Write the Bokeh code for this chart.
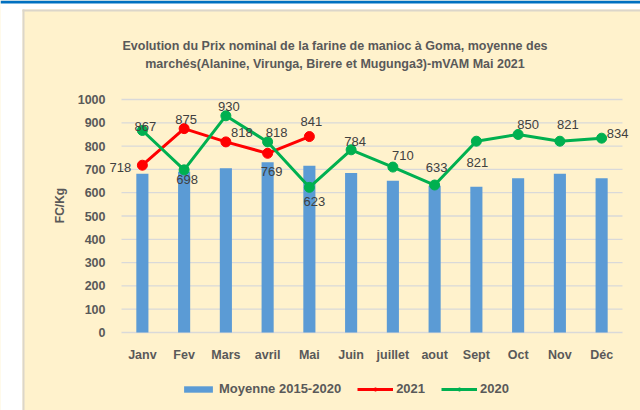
from bokeh.plotting import figure
from bokeh.models import (Range1d, FixedTicker, ColumnDataSource, LabelSet, Label,
                          Legend, LegendItem, BoxAnnotation)
from bokeh.core.properties import value
from bokeh.embed import file_html
from bokeh.resources import INLINE

# ---------------- data ----------------
months = ["Janv", "Fev", "Mars", "avril", "Mai", "Juin", "juillet", "aout",
          "Sept", "Oct", "Nov", "Déc"]
moyenne_2015_2020 = [681, 690, 705, 731, 716, 685, 651, 630, 626, 662, 681, 662]
prix_2021 = [718, 875, 818, 769, 841]
prix_2020 = [867, 698, 930, 818, 623, 784, 710, 633, 821, 850, 821, 834]
y_ticks = [0, 100, 200, 300, 400, 500, 600, 700, 800, 900, 1000]
title_lines = ["Evolution du Prix nominal de la farine de manioc à Goma, moyenne des",
               "marchés(Alanine, Virunga, Birere et Mugunga3)-mVAM Mai 2021"]
y_title = "FC/Kg"
legend_labels = ["Moyenne 2015-2020", "2021", "2020"]

# label offsets (screen px, layout only)
off_2021_x = [-22, 2, 16, 4, 2]
off_2021_y = [-2, 9, 9, -18, 15]
off_2020_x = [3, 3, 3, 9, 5, 4, 10, 2, 1, 10, 8, 16]
off_2020_y = [4, -10, 9, 9, -14, 8, 12, 18, -21, 10, 17, 5]

# ---------------- layout (page pixels) ----------------
W, H = 640, 410
GL, GR = 121, 622      # plot-area left/right
GT, GB = 99, 332       # plot-area top (1000) / bottom (0)
STEP = (GR - GL) / 12.0
PPU = (GB - GT) / 1000.0
FONT = "Liberation Sans"
CREAM = "#FFF2CC"
TXT = "#595959"
GRID = "#D9D9D9"

x_range = Range1d(0.5 - GL / STEP, 12.5 + (W - GR) / STEP)
y_range = Range1d(-(H - GB) / PPU, 1000 + GT / PPU)

p = figure(width=W, height=H, x_range=x_range, y_range=y_range,
           output_backend="svg", toolbar_location=None,
           min_border=0, min_border_left=0, min_border_right=0,
           min_border_top=0, min_border_bottom=0)
p.border_fill_color = CREAM
p.background_fill_color = CREAM
p.outline_line_color = None

# axes pinned inside the canvas
p.xaxis.fixed_location = 0
p.yaxis.fixed_location = 0.5
p.xaxis.ticker = FixedTicker(ticks=list(range(1, 13)))
p.xaxis.major_label_overrides = {i + 1: m for i, m in enumerate(months)}
p.yaxis.ticker = FixedTicker(ticks=y_ticks)
for ax in (p.xaxis, p.yaxis):
    ax.major_tick_line_color = None
    ax.minor_tick_line_color = None
    ax.axis_line_color = None
    ax.major_label_text_font = FONT
    ax.major_label_text_font_size = "12.5px"
    ax.major_label_text_font_style = "bold"
    ax.major_label_text_color = TXT
p.xaxis.major_label_standoff = 9
p.yaxis.major_label_standoff = 10
p.yaxis.axis_label = y_title
p.yaxis.axis_label_text_font = FONT
p.yaxis.axis_label_text_font_size = "12px"
p.yaxis.axis_label_text_font_style = "bold"
p.yaxis.axis_label_text_color = TXT
p.yaxis.axis_label_standoff = 8
p.xgrid.grid_line_color = None
p.ygrid.grid_line_color = None

# horizontal gridlines limited to the category area
p.segment(x0=[0.5] * len(y_ticks), x1=[12.5] * len(y_ticks), y0=y_ticks, y1=y_ticks,
          line_color=GRID, line_width=1.3)

x_all = list(range(1, 13))
src_bar = ColumnDataSource(dict(x=x_all, y=moyenne_2015_2020))
src_21 = ColumnDataSource(dict(x=x_all[:len(prix_2021)], y=prix_2021,
                               t=[str(v) for v in prix_2021], ox=off_2021_x, oy=off_2021_y))
src_20 = ColumnDataSource(dict(x=x_all, y=prix_2020,
                               t=[str(v) for v in prix_2020], ox=off_2020_x, oy=off_2020_y))

bars = p.vbar(x="x", top="y", bottom=0, width=0.29, source=src_bar,
              fill_color="#5B9BD5", line_color=None)
l21 = p.line("x", "y", source=src_21, line_color="#FF0000", line_width=3)
m21 = p.scatter("x", "y", source=src_21, size=10, fill_color="#FF0000", line_color="#FF0000")
l20 = p.line("x", "y", source=src_20, line_color="#00B050", line_width=3)
m20 = p.scatter("x", "y", source=src_20, size=10, fill_color="#00B050", line_color="#00B050")

for src in (src_21, src_20):
    p.add_layout(LabelSet(x="x", y="y", text="t", x_offset="ox", y_offset="oy", source=src,
                          text_align="center", text_baseline="middle",
                          text_font=value(FONT), text_font_size=value("13px"),
                          text_color="#404040"))

# title (screen units: frame == canvas, y measured up from bottom)
for i, line in enumerate(title_lines):
    cy = 45 + i * 18
    p.add_layout(Label(x=334.5, y=H - cy, x_units="screen", y_units="screen", text=line,
                       text_align="center", text_baseline="middle", text_font=FONT,
                       text_font_size="12.5px", text_font_style="bold", text_color=TXT))

# page decoration: white margin, blue top bar, grey panel edges
def box(l, r, t, b, color):
    p.add_layout(BoxAnnotation(left=l, right=r, top=H - t, bottom=H - b,
                               left_units="screen", right_units="screen",
                               top_units="screen", bottom_units="screen",
                               fill_color=color, fill_alpha=1, line_color=None,
                               level="underlay"))

box(0, 22, 0, H, "white")
box(0, W, 0, 9, "white")
box(22, 24, 9, H, "#DCD6CA")
box(22, W, 9, 11, "#DCD6CA")
box(0, W, 0, 3, "#0070C0")

legend = Legend(items=[LegendItem(label=legend_labels[0], renderers=[bars]),
                       LegendItem(label=legend_labels[1], renderers=[l21, m21]),
                       LegendItem(label=legend_labels[2], renderers=[l20, m20])],
                orientation="horizontal", location=(180, H - 396),
                label_text_font=FONT, label_text_font_size="13px", label_text_font_style="bold",
                label_text_color=TXT, glyph_width=36, glyph_height=8, label_standoff=3,
                spacing=16, padding=0, margin=0, border_line_color=None,
                background_fill_alpha=0)
p.add_layout(legend, "center")

open("out.html", "w").write(file_html(p, INLINE))
